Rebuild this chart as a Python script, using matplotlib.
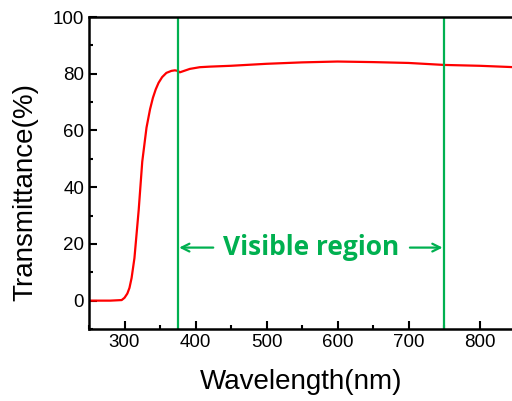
import matplotlib.pyplot as plt
from matplotlib.ticker import MultipleLocator

plt.rcParams['font.family'] = ['Liberation Sans', 'DejaVu Sans']

# transmittance spectrum
wavelength = [250, 280, 296, 300, 304, 307, 310, 314, 320, 325, 331, 336, 340,
              344, 348, 353, 359, 366, 371, 375, 378, 385, 392, 406, 420, 450,
              500, 550, 600, 650, 700, 750, 800, 850]
transmittance = [0, 0, 0.2, 1, 2.5, 4.5, 8, 15, 32, 49, 61, 67.5, 71.5,
                 74.5, 76.8, 78.8, 80.3, 81.0, 81.2, 81.0, 80.5, 81.1, 81.7,
                 82.3, 82.5, 82.8, 83.5, 84.0, 84.3, 84.1, 83.8, 83.1, 82.8,
                 82.3]

visible_start = 375
visible_end = 750
label_text = 'Visible region'

fig = plt.figure(figsize=(5.12, 4.01), dpi=100)
ax = fig.add_axes([89 / 512, 72 / 401, 426 / 512, 312 / 401])

ax.plot(wavelength, transmittance, color='#ff0000', lw=1.6)
ax.axvline(visible_start, color='#00b050', lw=1.6)
ax.axvline(visible_end, color='#00b050', lw=1.6)

green = '#00b050'
arrow = dict(arrowstyle='->', color=green, lw=1.6, shrinkA=0, shrinkB=0,
             mutation_scale=14)
ax.annotate('', xy=(visible_start + 2, 18.7), xytext=(425, 18.7),
            arrowprops=arrow)
ax.annotate('', xy=(visible_end - 2, 18.7), xytext=(702, 18.7),
            arrowprops=arrow)
ax.text(563, 18.7, label_text, color=green, fontsize=19, fontweight='bold',
        ha='center', va='center', family=['Open Sans', 'DejaVu Sans'])

ax.set_xlim(250, 850)
ax.set_ylim(-10, 100)
ax.xaxis.set_major_locator(MultipleLocator(100))
ax.xaxis.set_minor_locator(MultipleLocator(50))
ax.yaxis.set_major_locator(MultipleLocator(20))
ax.yaxis.set_minor_locator(MultipleLocator(10))
ax.tick_params(which='both', direction='in', top=False, right=False,
               width=1.5, labelsize=13.5)
ax.tick_params(which='major', length=6)
ax.tick_params(which='minor', length=3)
ax.set_xticks([300, 400, 500, 600, 700, 800])
for s in ax.spines.values():
    s.set_linewidth(1.8)
ax.spines['right'].set_visible(False)

ax.set_xlabel('Wavelength(nm)', fontsize=20)
ax.set_ylabel('Transmittance(%)', fontsize=20)
ax.xaxis.set_label_coords(0.497, -0.128)
ax.yaxis.set_label_coords(-0.12, 0.44)

fig.savefig('out.png', dpi=100)
